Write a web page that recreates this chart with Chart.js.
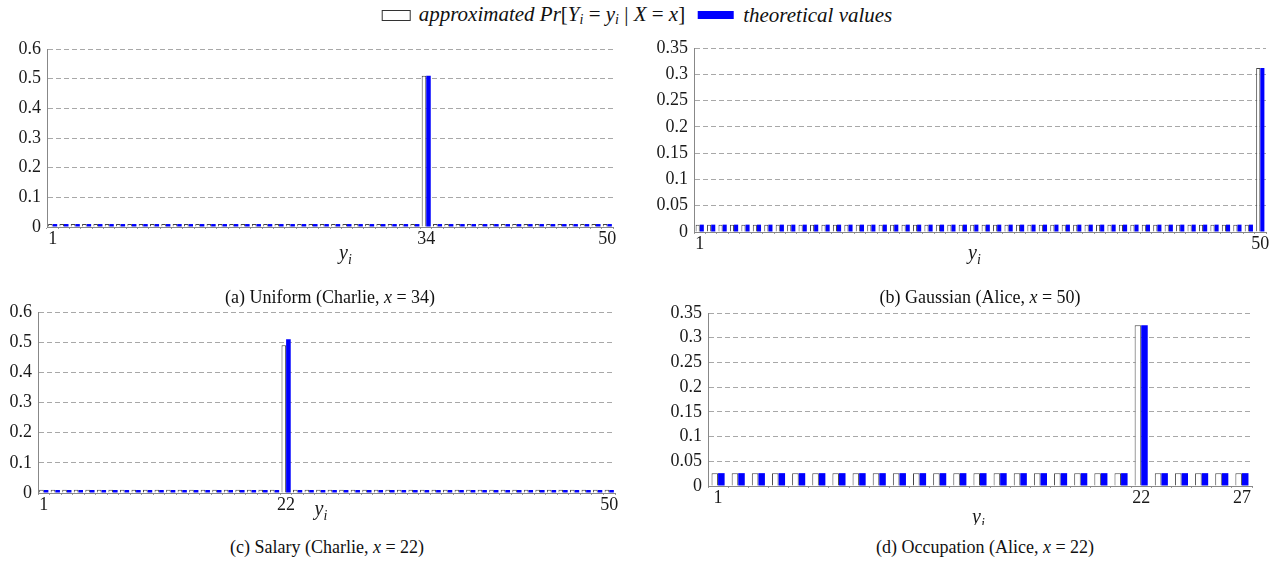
<!DOCTYPE html>
<html>
<head>
<meta charset="utf-8">
<script src="https://cdn.jsdelivr.net/npm/chart.js@4.4.1/dist/chart.umd.min.js"></script>
<style>
  html, body { margin: 0; padding: 0; background: #fff; }
  body { width: 1270px; height: 565px; position: relative; overflow: hidden; font-family: "Liberation Serif", "DejaVu Serif", serif; color: #111; }
  canvas { position: absolute; }
  .cap { position: absolute; font-size: 18px; white-space: nowrap; transform: translate(-50%, -50%); z-index: 5; }
  #legend { position: absolute; left: 637px; top: 15px; transform: translate(-50%, -50%); font-size: 21px; font-style: italic; white-space: nowrap; display: flex; align-items: center; z-index: 5; }
  #legend .sw1 { display: inline-block; width: 27px; height: 9px; border: 1px solid #333; background: #fff; margin-right: 8px; }
  #legend .sw2 { display: inline-block; width: 36px; height: 8px; background: #0000ff; margin: 0 9px 0 13px; }
  #legend sub { font-size: 14px; vertical-align: -3px; }
  .up { font-style: normal; }
</style>
</head>
<body>
<div id="legend"><span class="sw1"></span><span>approximated Pr<span class="up">[</span>Y<sub>i</sub> <span class="up">=</span> y<sub>i</sub> <span class="up">|</span> X <span class="up">=</span> x<span class="up">]</span></span><span class="sw2"></span><span>theoretical values</span></div>

<canvas id="ca" width="640" height="250" style="left:0px;top:30px"></canvas>
<canvas id="cb" width="630" height="250" style="left:640px;top:30px"></canvas>
<canvas id="cc" width="640" height="240" style="left:0px;top:285px"></canvas>
<canvas id="cd" width="630" height="240" style="left:640px;top:285px"></canvas>

<div class="cap" style="left:330px;top:297px">(a) Uniform (Charlie, <i>x</i> = 34)</div>
<div class="cap" style="left:980px;top:297px">(b) Gaussian (Alice, <i>x</i> = 50)</div>
<div class="cap" style="left:327px;top:547px">(c) Salary (Charlie, <i>x</i> = 22)</div>
<div class="cap" style="left:985px;top:547px">(d) Occupation (Alice, <i>x</i> = 22)</div>

<script>
// ---------------- DATA ----------------
const labels50 = ["1","2","3","4","5","6","7","8","9","10","11","12","13","14","15","16","17","18","19","20","21","22","23","24","25","26","27","28","29","30","31","32","33","34","35","36","37","38","39","40","41","42","43","44","45","46","47","48","49","50"];
const labels27 = ["1","2","3","4","5","6","7","8","9","10","11","12","13","14","15","16","17","18","19","20","21","22","23","24","25","26","27"];

// (a) Uniform (Charlie, x = 34)
const uniformApprox = [0.01,0.01,0.01,0.01,0.01,0.01,0.01,0.01,0.01,0.01,0.01,0.01,0.01,0.01,0.01,0.01,0.01,0.01,0.01,0.01,0.01,0.01,0.01,0.01,0.01,0.01,0.01,0.01,0.01,0.01,0.01,0.01,0.01,0.51,0.01,0.01,0.01,0.01,0.01,0.01,0.01,0.01,0.01,0.01,0.01,0.01,0.01,0.01,0.01,0.01];
const uniformTheo   = [0.01,0.01,0.01,0.01,0.01,0.01,0.01,0.01,0.01,0.01,0.01,0.01,0.01,0.01,0.01,0.01,0.01,0.01,0.01,0.01,0.01,0.01,0.01,0.01,0.01,0.01,0.01,0.01,0.01,0.01,0.01,0.01,0.01,0.51,0.01,0.01,0.01,0.01,0.01,0.01,0.01,0.01,0.01,0.01,0.01,0.01,0.01,0.01,0.01,0.01];

// (b) Gaussian (Alice, x = 50)
const gaussApprox = [0.014,0.014,0.014,0.014,0.014,0.014,0.014,0.014,0.014,0.014,0.014,0.014,0.014,0.014,0.014,0.014,0.014,0.014,0.014,0.014,0.014,0.014,0.014,0.014,0.014,0.014,0.014,0.014,0.014,0.014,0.014,0.014,0.014,0.014,0.014,0.014,0.014,0.014,0.014,0.014,0.014,0.014,0.014,0.014,0.014,0.014,0.014,0.014,0.014,0.312];
const gaussTheo   = [0.014,0.014,0.014,0.014,0.014,0.014,0.014,0.014,0.014,0.014,0.014,0.014,0.014,0.014,0.014,0.014,0.014,0.014,0.014,0.014,0.014,0.014,0.014,0.014,0.014,0.014,0.014,0.014,0.014,0.014,0.014,0.014,0.014,0.014,0.014,0.014,0.014,0.014,0.014,0.014,0.014,0.014,0.014,0.014,0.014,0.014,0.014,0.014,0.014,0.312];

// (c) Salary (Charlie, x = 22)
const salaryApprox = [0.0104,0.0104,0.0104,0.0104,0.0104,0.0104,0.0104,0.0104,0.0104,0.0104,0.0104,0.0104,0.0104,0.0104,0.0104,0.0104,0.0104,0.0104,0.0104,0.0104,0.0104,0.49,0.0104,0.0104,0.0104,0.0104,0.0104,0.0104,0.0104,0.0104,0.0104,0.0104,0.0104,0.0104,0.0104,0.0104,0.0104,0.0104,0.0104,0.0104,0.0104,0.0104,0.0104,0.0104,0.0104,0.0104,0.0104,0.0104,0.0104,0.0104];
const salaryTheo   = [0.01,0.01,0.01,0.01,0.01,0.01,0.01,0.01,0.01,0.01,0.01,0.01,0.01,0.01,0.01,0.01,0.01,0.01,0.01,0.01,0.01,0.51,0.01,0.01,0.01,0.01,0.01,0.01,0.01,0.01,0.01,0.01,0.01,0.01,0.01,0.01,0.01,0.01,0.01,0.01,0.01,0.01,0.01,0.01,0.01,0.01,0.01,0.01,0.01,0.01];

// (d) Occupation (Alice, x = 22)
const occApprox = [0.026,0.026,0.026,0.026,0.026,0.026,0.026,0.026,0.026,0.026,0.026,0.026,0.026,0.026,0.026,0.026,0.026,0.026,0.026,0.026,0.026,0.325,0.026,0.026,0.026,0.026,0.026];
const occTheo   = [0.026,0.026,0.026,0.026,0.026,0.026,0.026,0.026,0.026,0.026,0.026,0.026,0.026,0.026,0.026,0.026,0.026,0.026,0.026,0.026,0.026,0.325,0.026,0.026,0.026,0.026,0.026];

// tick labels shown on x axes
const shownA = ["1","34","50"];
const shownB = ["1","50"];
const shownC = ["1","22","50"];
const shownD = ["1","22","27"];

// ---------------- STYLE / LAYOUT ----------------
const FONT = '"Liberation Serif", "DejaVu Serif", serif';
const TXT = '#1a1a1a';

const yiTitle = {
  id: 'yiTitle',
  afterDraw(chart, args, opts) {
    const { ctx, chartArea } = chart;
    const x = (chartArea.left + chartArea.right) / 2 + opts.dx;
    const y = chartArea.bottom + opts.dy;
    ctx.save();
    ctx.fillStyle = TXT;
    ctx.textBaseline = 'alphabetic';
    ctx.textAlign = 'left';
    ctx.font = 'italic 20px ' + FONT;
    ctx.fillText('y', x, y);
    const w = ctx.measureText('y').width;
    ctx.font = 'italic 14px ' + FONT;
    ctx.fillText('i', x + w, y + 5);
    ctx.restore();
  }
};

function makePanel(id, rect, plot, labels, approx, theo, shown, yMax, yStep, catPct, yi) {
  new Chart(document.getElementById(id), {
    type: 'bar',
    data: {
      labels: labels,
      datasets: [
        { label: 'approximated', data: approx, backgroundColor: '#ffffff', borderColor: '#444444', borderWidth: 1, barPercentage: 1.0, categoryPercentage: catPct },
        { label: 'theoretical', data: theo, backgroundColor: '#0000ff', borderWidth: 0, barPercentage: 1.0, categoryPercentage: catPct }
      ]
    },
    options: {
      responsive: false,
      animation: false,
      devicePixelRatio: 1,
      layout: { padding: { left: 0, top: plot.t - rect.y, right: rect.x + rect.w - plot.r, bottom: 0 } },
      plugins: { legend: { display: false }, tooltip: { enabled: false }, yiTitle: yi },
      scales: {
        x: {
          type: 'category',
          offset: true,
          grid: { display: true, drawOnChartArea: false, drawTicks: true, tickLength: 2, color: '#9a9a9a', offset: true },
          border: { display: true, color: '#888888', width: 1 },
          ticks: {
            autoSkip: false, maxRotation: 0, minRotation: 0, padding: -1,
            color: TXT, font: { family: FONT, size: 18 },
            callback: function (v, i) { return shown.includes(labels[i]) ? labels[i] : ''; }
          },
          afterFit: function (s) { s.height = rect.y + rect.h - plot.b; }
        },
        y: {
          min: 0, max: yMax,
          grid: { drawTicks: false, lineWidth: 1, color: function (c) { return c.tick && c.tick.value === 0 ? 'rgba(0,0,0,0)' : '#a8a8a8'; } },
          border: { display: true, color: '#888888', width: 1, dash: [5, 3] },
          ticks: {
            stepSize: yStep, padding: 6, color: TXT, font: { family: FONT, size: 18 },
            callback: function (v) { return String(Number(v.toFixed(2))); }
          },
          afterFit: function (s) { s.width = plot.l - rect.x; }
        }
      }
    },
    plugins: [yiTitle]
  });
}

makePanel('ca', { x: 0, y: 30, w: 640, h: 250 }, { l: 47, r: 613, t: 49, b: 227 },
  labels50, uniformApprox, uniformTheo, shownA, 0.6, 0.1, 0.8, { dx: 9, dy: 32 });
makePanel('cb', { x: 640, y: 30, w: 630, h: 250 }, { l: 694, r: 1266, t: 48, b: 232 },
  labels50, gaussApprox, gaussTheo, shownB, 0.35, 0.05, 0.72, { dx: -12, dy: 27 });
makePanel('cc', { x: 0, y: 285, w: 640, h: 240 }, { l: 38, r: 615, t: 312, b: 493 },
  labels50, salaryApprox, salaryTheo, shownC, 0.6, 0.1, 0.8, { dx: -12, dy: 22 });
makePanel('cd', { x: 640, y: 285, w: 630, h: 240 }, { l: 708, r: 1252, t: 313, b: 486 },
  labels27, occApprox, occTheo, shownD, 0.35, 0.05, 0.65, { dx: -8, dy: 37 });
</script>
</body>
</html>
